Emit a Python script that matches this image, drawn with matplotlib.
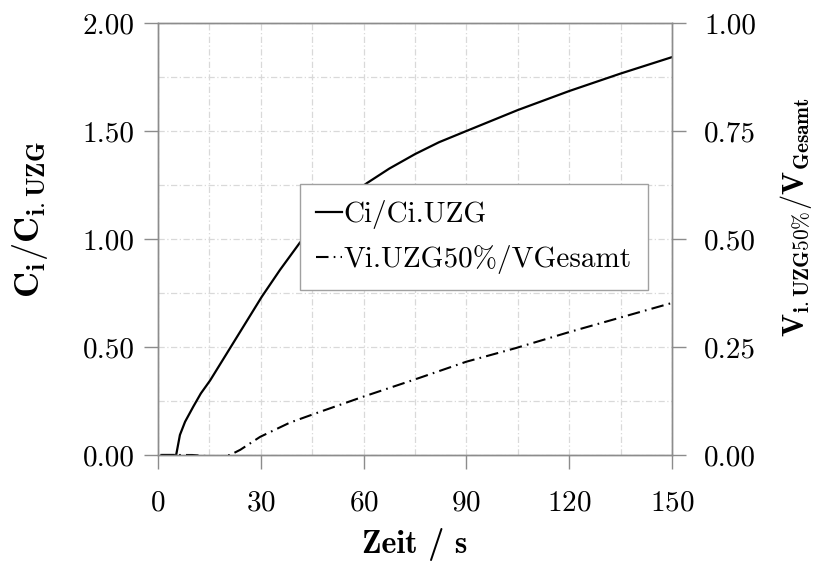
import matplotlib
matplotlib.use("Agg")
import matplotlib.pyplot as plt
from matplotlib.ticker import MultipleLocator, FormatStrFormatter

plt.rcParams['font.family'] = ['cmr10', 'DejaVu Serif']
plt.rcParams['mathtext.fontset'] = 'cm'
plt.rcParams['axes.formatter.use_mathtext'] = True

# Ci/Ci.UZG (linke Achse)
t_c = [1, 5.3, 6.4, 7.9, 10.3, 12.5, 15.2, 21, 26.8, 30.3, 35.6, 41.4, 45, 50,
       55, 60.9, 67.5, 75, 82, 90, 105, 120, 135, 150]
c_ratio = [0, 0, 0.093, 0.154, 0.224, 0.285, 0.345, 0.494, 0.643, 0.733, 0.857,
           0.983, 1.045, 1.115, 1.185, 1.258, 1.326, 1.393, 1.448, 1.50, 1.597,
           1.685, 1.766, 1.842]

# Vi.UZG50%/VGesamt (rechte Achse)
t_v = [1, 10, 15, 18, 21, 24, 29.8, 38.5, 47.3, 59.9, 75, 90, 104.2, 120.2, 150]
v_ratio = [0, 0, -0.003, -0.004, 0, 0.012, 0.042, 0.075, 0.100, 0.135, 0.175,
           0.216, 0.247, 0.285, 0.352]

x_ticks = [0, 30, 60, 90, 120, 150]

grey = '#8c8c8c'
gridc = '#d9d9d9'

fig = plt.figure(figsize=(8.16, 5.73), dpi=100)
ax = fig.add_axes([158 / 816, 118 / 573, 514 / 816, 432 / 573])
ax2 = ax.twinx()

l1, = ax.plot(t_c, c_ratio, color='black', lw=1.6, label='Ci/Ci.UZG')
l2, = ax2.plot(t_v, v_ratio, color='black', lw=1.5, dashes=(6, 2.5, 0.8, 2.5),
               label='Vi.UZG50%/VGesamt')

ax.set_xlim(0, 150)
ax.set_ylim(0, 2.0)
ax2.set_ylim(0, 1.0)

ax.set_xticks(x_ticks)
ax.xaxis.set_minor_locator(MultipleLocator(15))
ax.yaxis.set_major_locator(MultipleLocator(0.5))
ax.yaxis.set_minor_locator(MultipleLocator(0.25))
ax.yaxis.set_major_formatter(FormatStrFormatter('%.2f'))
ax2.yaxis.set_major_locator(MultipleLocator(0.25))
ax2.yaxis.set_major_formatter(FormatStrFormatter('%.2f'))

ax.grid(which='both', color=gridc, lw=0.9, dashes=(5, 2, 1, 2))
ax.set_axisbelow(True)

for a in (ax, ax2):
    for s in a.spines.values():
        s.set_color(grey)
        s.set_linewidth(1.0)
    a.tick_params(which='major', direction='out', length=10, width=1.0,
                  color=grey, labelsize=21, pad=7)
    a.tick_params(which='minor', length=0)
ax.tick_params(axis='x', pad=15)
ax2.tick_params(axis='y', pad=13)

ax.set_xlabel('Zeit / s', fontsize=23, fontweight='bold',
              family=['cmb10', 'DejaVu Serif'])
ax.set_ylabel(r'$\mathbf{C_{i}/C_{i.UZG}}$', fontsize=26)
ax2.set_ylabel(r'$\mathbf{V_{i.UZG50\%}/V_{Gesamt}}$', fontsize=22)
ax.xaxis.set_label_coords(0.5, -0.17)
ax.yaxis.set_label_coords(-0.21, 0.544)
ax2.yaxis.set_label_coords(1.207, 0.551)

leg = fig.legend([l1, l2], [l1.get_label(), l2.get_label()], loc='upper left',
                 bbox_to_anchor=(300 / 816, 1 - 184 / 573), fontsize=21,
                 handlelength=0.9, handletextpad=0.05, labelspacing=0.55,
                 borderpad=0.55, borderaxespad=0, fancybox=False, framealpha=1,
                 edgecolor='#a0a0a0')
leg.get_frame().set_linewidth(1.0)

fig.savefig('out.png', dpi=100)
